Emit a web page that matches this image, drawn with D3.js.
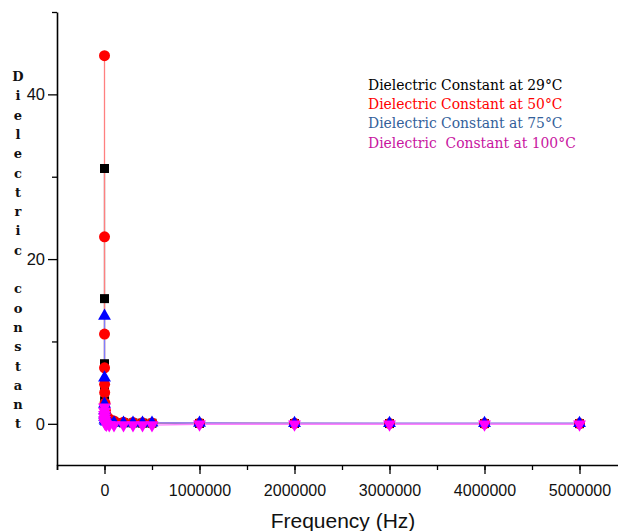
<!DOCTYPE html>
<html>
<head>
<meta charset="utf-8">
<script src="https://cdn.jsdelivr.net/npm/d3@7"></script>
<style>
  html, body { margin: 0; padding: 0; background: #fff; }
  svg { display: block; }
</style>
</head>
<body>
<svg id="chart" width="618" height="531"></svg>
<script>
// ---- data ----
const frequency = [50, 100, 200, 500, 1000, 2000, 5000, 10000, 20000, 50000,
  100000, 200000, 300000, 400000, 500000, 1000000, 2000000, 3000000, 4000000, 5000000];
const dc29 = [31.0, 15.2, 7.3, 4.6, 2.8, 1.8, 1.1, 0.7, 0.45, 0.3,
  0.2, 0.12, 0.1, 0.08, 0.07, 0.05, 0.04, 0.03, 0.03, 0.02];
const dc50 = [44.7, 22.7, 10.9, 6.8, 4.8, 3.8, 2.5, 1.6, 1.0, 0.6,
  0.35, 0.2, 0.15, 0.12, 0.1, 0.08, 0.06, 0.05, 0.04, 0.04];
const dc75 = [13.1, 5.6, 2.4, 1.6, 1.1, 0.8, 0.5, 0.35, 0.25, 0.2,
  0.15, 0.12, 0.12, 0.12, 0.12, 0.1, 0.08, 0.08, 0.08, 0.08];
const dc100 = [2.0, 1.5, 1.1, 0.8, 0.5, 0.3, 0.1, 0.0, -0.1, -0.15,
  -0.15, -0.15, -0.15, -0.15, -0.15, -0.05, -0.05, -0.05, -0.05, -0.05];
const seriesNames = ["Dielectric Constant at 29\u00B0C", "Dielectric Constant at 50\u00B0C",
  "Dielectric Constant at 75\u00B0C", "Dielectric  Constant at 100\u00B0C"];
const xTicks = [0, 1000000, 2000000, 3000000, 4000000, 5000000];
const yTicks = [0, 20, 40];
const xTitle = "Frequency (Hz)";
const yTitle = "Dielectric constant";

// ---- styles ----
const series = [
  { name: seriesNames[0], values: dc29, color: "#000000", line: "#7a7a7a", text: "#000000", sym: d3.symbolSquare, size: 81, rot: 0 },
  { name: seriesNames[1], values: dc50, color: "#ff0000", line: "#ff8080", text: "#ff0000", sym: d3.symbolCircle, size: 95, rot: 0 },
  { name: seriesNames[2], values: dc75, color: "#0000ff", line: "#7f7fff", text: "#33609a", sym: d3.symbolTriangle, size: 72, rot: 0 },
  { name: seriesNames[3], values: dc100, color: "#ff00ff", line: "#ff80ff", text: "#c8159f", sym: d3.symbolTriangle, size: 72, rot: 180 }
];

const svg = d3.select("#chart");
const x = d3.scaleLinear().domain([-500000, 5500000]).range([57, 627]);
const y = d3.scaleLinear().domain([-5, 50]).range([465, 12]);

// clip for plotting
svg.append("defs").append("clipPath").attr("id", "clip")
  .append("rect").attr("x", 57).attr("y", 0).attr("width", 618 - 57).attr("height", 465);

// axes
const xMinor = d3.range(-500000, 5500001, 500000);
const xAxis = d3.axisBottom(x).tickValues(xMinor)
  .tickSize(5).tickFormat("");
svg.append("g").attr("transform", "translate(0,465)").call(xAxis)
  .call(g => g.select(".domain").attr("stroke-width", 1.6))
  .call(g => g.selectAll(".tick line").attr("stroke-width", 1.3));
const xAxisMajor = d3.axisBottom(x).tickValues(xTicks).tickSize(9).tickSizeOuter(0)
  .tickFormat(d3.format("d"));
svg.append("g").attr("transform", "translate(0,465)").call(xAxisMajor)
  .call(g => g.select(".domain").remove())
  .call(g => g.selectAll(".tick line").attr("stroke-width", 1.3))
  .call(g => g.selectAll(".tick text").attr("font-family", "Liberation Sans, Arial, sans-serif")
    .attr("font-size", 16).attr("fill", "#111").attr("dy", "1.2em"));

const yAxis = d3.axisLeft(y).tickValues([10, 30, 50]).tickSize(5).tickSizeOuter(0).tickFormat("");
svg.append("g").attr("transform", "translate(57,0)").call(yAxis)
  .call(g => g.select(".domain").attr("stroke-width", 1.6))
  .call(g => g.selectAll(".tick line").attr("stroke-width", 1.3));
const yAxisMajor = d3.axisLeft(y).tickValues(yTicks).tickSize(9).tickFormat(d3.format("d"));
svg.append("g").attr("transform", "translate(57,0)").call(yAxisMajor)
  .call(g => g.select(".domain").remove())
  .call(g => g.selectAll(".tick line").attr("stroke-width", 1.3))
  .call(g => g.selectAll(".tick text").attr("font-family", "Liberation Sans, Arial, sans-serif")
    .attr("font-size", 16.5).attr("fill", "#111").attr("x", -12));

// plot
const plot = svg.append("g").attr("clip-path", "url(#clip)");
const line = d3.line().x((d, i) => x(frequency[i])).y(d => y(d));
series.forEach(s => {
  plot.append("path").datum(s.values).attr("d", line)
    .attr("fill", "none").attr("stroke", s.line).attr("stroke-width", 1.3);
});
series.forEach(s => {
  plot.append("g").selectAll("path").data(s.values).join("path")
    .attr("d", d3.symbol().type(s.sym).size(s.size))
    .attr("transform", (d, i) => `translate(${x(frequency[i])},${y(d)}) rotate(${s.rot})`)
    .attr("fill", s.color);
});

// legend
const leg = svg.append("g").attr("font-family", "DejaVu Serif, Liberation Serif, serif").attr("font-size", 13.9);
series.forEach((s, i) => {
  leg.append("text").attr("x", 368).attr("y", 90 + i * 19.2).attr("fill", s.text)
    .attr("xml:space", "preserve").style("white-space", "pre").text(s.name);
});

// x title
svg.append("text").attr("x", 343).attr("y", 528).attr("text-anchor", "middle")
  .attr("font-family", "Liberation Sans, Arial, sans-serif").attr("font-size", 21).attr("fill", "#111")
  .text(xTitle);

// y title: stacked letters
const yt = svg.append("g").attr("font-family", "DejaVu Serif, Liberation Serif, serif")
  .attr("font-size", 13).attr("font-weight", "bold").attr("fill", "#111");
yTitle.split("").forEach((ch, i) => {
  yt.append("text").attr("x", 18).attr("y", 81 + i * 19.3).attr("text-anchor", "middle").text(ch);
});
</script>
</body>
</html>
